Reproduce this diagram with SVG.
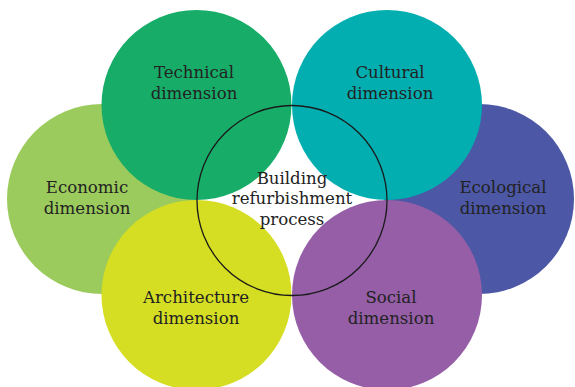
<svg xmlns="http://www.w3.org/2000/svg" width="575" height="387" viewBox="0 0 575 387">
  <style>
    .lbl { font-family: "DejaVu Serif", "Liberation Serif", serif; font-size: 16.6px; fill: #222222; text-anchor: middle; }
    .ring { fill: none; stroke: #1a1a1a; stroke-width: 1.3; }
  </style>
  <rect width="575" height="387" fill="#ffffff"/>
  <!-- outer side circles sit underneath -->
  <g id="economic">
    <circle cx="102" cy="199" r="95" fill="#9bcb5c"/>
    <text class="lbl" x="87" y="193">Economic</text>
    <text class="lbl" x="87" y="214">dimension</text>
  </g>
  <g id="ecological">
    <circle cx="479" cy="199" r="95" fill="#4c57a6"/>
    <text class="lbl" x="503" y="193">Ecological</text>
    <text class="lbl" x="503" y="214">dimension</text>
  </g>
  <g id="technical">
    <circle cx="196.5" cy="105" r="95" fill="#17ad69"/>
    <text class="lbl" x="194" y="78">Technical</text>
    <text class="lbl" x="194" y="99">dimension</text>
  </g>
  <g id="cultural">
    <circle cx="387" cy="105" r="95" fill="#02aeb0"/>
    <text class="lbl" x="390" y="78">Cultural</text>
    <text class="lbl" x="390" y="99">dimension</text>
  </g>
  <g id="architecture">
    <circle cx="196.5" cy="295" r="95" fill="#d5de22"/>
    <text class="lbl" x="196" y="303">Architecture</text>
    <text class="lbl" x="196" y="324">dimension</text>
  </g>
  <g id="social">
    <circle cx="387" cy="295" r="95" fill="#955ea6"/>
    <text class="lbl" x="391" y="303">Social</text>
    <text class="lbl" x="391" y="324">dimension</text>
  </g>
  <!-- central process ring -->
  <g id="process">
    <circle class="ring" cx="292" cy="200.5" r="95"/>
    <text class="lbl" x="292" y="184">Building</text>
    <text class="lbl" x="292" y="204">refurbishment</text>
    <text class="lbl" x="292" y="225">process</text>
  </g>
  <g id="connectors"/>
</svg>
